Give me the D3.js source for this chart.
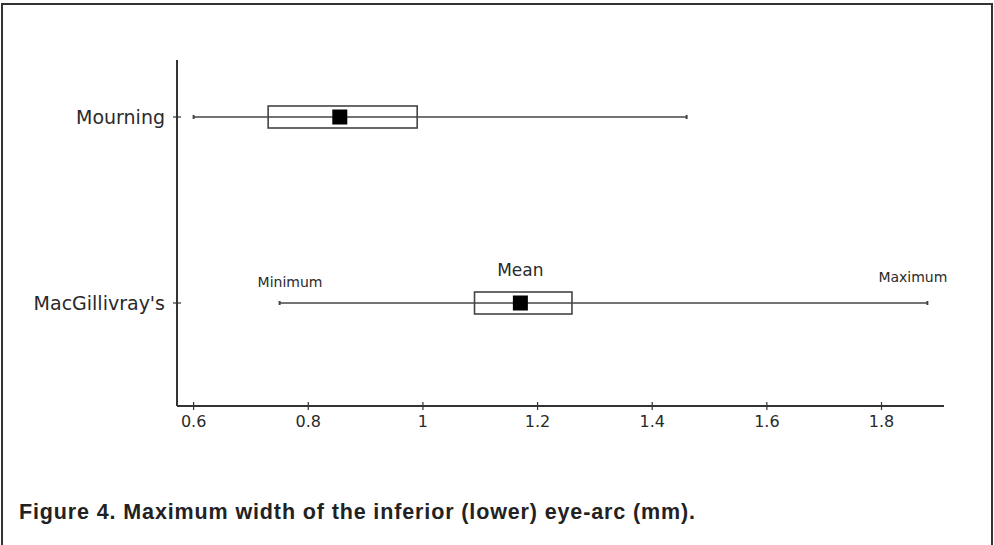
<!DOCTYPE html>
<html>
<head>
<meta charset="utf-8">
<script src="https://cdn.jsdelivr.net/npm/d3@7"></script>
<style>
  body { margin: 0; background: #fff; }
  svg { display: block; }
  .lab { font-family: "DejaVu Sans", Verdana, sans-serif; fill: #2a2a2a; }
</style>
</head>
<body>
<svg id="chart" width="994" height="545"></svg>
<script>
// values (mm)
const species = ["Mourning", "MacGillivray's"];
const minimum = [0.60, 0.75];
const boxLow = [0.73, 1.09];
const meanVal = [0.855, 1.17];
const boxHigh = [0.99, 1.26];
const maximum = [1.46, 1.88];
const xTicks = [0.6, 0.8, 1, 1.2, 1.4, 1.6, 1.8];
const caption = "Figure 4. Maximum width of the inferior (lower) eye-arc (mm).";

const svg = d3.select("#chart");

// outer frame (open at bottom)
svg.append("path")
    .attr("d", "M2,545V4H992V545")
    .attr("fill", "none")
    .attr("stroke", "#333")
    .attr("stroke-width", 2);

const x = d3.scaleLinear().domain([0.571, 1.909]).range([177, 944]);
const y = d3.scalePoint().domain(species).range([117, 303]);
const axisTop = 60, axisBottom = 406;

// axes lines
svg.append("line")
    .attr("x1", x.range()[0]).attr("x2", x.range()[0])
    .attr("y1", axisTop).attr("y2", axisBottom)
    .attr("stroke", "#333").attr("stroke-width", 2);
svg.append("line")
    .attr("x1", x.range()[0]).attr("x2", x.range()[1])
    .attr("y1", axisBottom).attr("y2", axisBottom)
    .attr("stroke", "#333").attr("stroke-width", 2);

// x ticks
const xt = svg.selectAll(".xt").data(xTicks).enter().append("g")
    .attr("transform", d => `translate(${x(d)},${axisBottom})`);
xt.append("line").attr("y1", -4).attr("y2", 4).attr("stroke", "#333").attr("stroke-width", 1.2);
xt.append("text").attr("class", "lab")
    .attr("y", 21).attr("text-anchor", "middle")
    .style("font-size", "16px")
    .text(d => d);

// y ticks + labels
const yt = svg.selectAll(".yt").data(species).enter().append("g")
    .attr("transform", d => `translate(${x.range()[0]},${y(d)})`);
yt.append("line").attr("x1", -4).attr("x2", 4).attr("stroke", "#333").attr("stroke-width", 1.2);
yt.append("text").attr("class", "lab")
    .attr("x", -12).attr("dy", "0.35em").attr("text-anchor", "end")
    .style("font-size", "19px")
    .text(d => d);

// box plots
species.forEach((s, i) => {
    const cy = y(s);
    const g = svg.append("g");
    g.append("line")
        .attr("x1", x(minimum[i])).attr("x2", x(maximum[i]))
        .attr("y1", cy).attr("y2", cy)
        .attr("stroke", "#444").attr("stroke-width", 1.6);
    [minimum[i], maximum[i]].forEach(v => {
        g.append("line")
            .attr("x1", x(v)).attr("x2", x(v))
            .attr("y1", cy - 2).attr("y2", cy + 2)
            .attr("stroke", "#444").attr("stroke-width", 2);
    });
    g.append("rect")
        .attr("x", x(boxLow[i])).attr("width", x(boxHigh[i]) - x(boxLow[i]))
        .attr("y", cy - 11).attr("height", 22)
        .attr("fill", "none").attr("stroke", "#444").attr("stroke-width", 1.6);
    g.append("rect")
        .attr("x", x(meanVal[i]) - 7.5).attr("y", cy - 7.5)
        .attr("width", 15).attr("height", 15)
        .attr("fill", "#000");
});

// annotations on the lower plot
const k = 1;
svg.append("text").attr("class", "lab")
    .attr("x", x(minimum[k]) - 22).attr("y", y(species[k]) - 16)
    .style("font-size", "14px")
    .text("Minimum");
svg.append("text").attr("class", "lab")
    .attr("x", x(meanVal[k])).attr("y", y(species[k]) - 27)
    .attr("text-anchor", "middle")
    .style("font-size", "17px")
    .text("Mean");
svg.append("text").attr("class", "lab")
    .attr("x", x(maximum[k]) + 20).attr("y", y(species[k]) - 21)
    .attr("text-anchor", "end")
    .style("font-size", "14px")
    .text("Maximum");

// caption
svg.append("text")
    .attr("x", 19).attr("y", 519)
    .style("font-family", "'Liberation Sans', Arial, sans-serif")
    .style("font-weight", "bold")
    .style("font-size", "21.5px")
    .attr("textLength", 676)
    .attr("fill", "#222")
    .text(caption);
</script>
</body>
</html>
